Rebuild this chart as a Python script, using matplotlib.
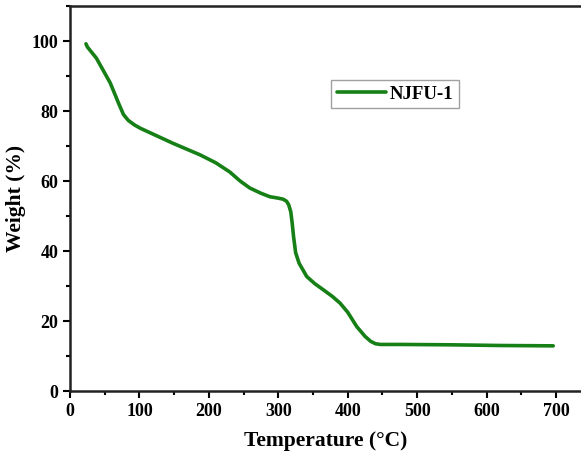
import matplotlib.pyplot as plt
from matplotlib.ticker import MultipleLocator

plt.rcParams['font.family'] = ['Liberation Serif', 'DejaVu Serif']
plt.rcParams['font.weight'] = 'bold'

# TGA curve
temperature = [23, 25, 38, 58, 70, 77, 84, 93, 101, 148, 187, 210, 230, 245, 259, 275, 288,
               300, 307, 312, 315, 318, 320, 322, 325, 330, 341, 353, 365, 378, 389, 400,
               413, 425, 433, 440, 447, 475, 547, 620, 696]
weight = [99.2, 98.3, 95.1, 88.0, 82.2, 79.0, 77.3, 76.0, 75.1, 70.8, 67.5, 65.2, 62.6, 60.0,
          58.0, 56.5, 55.5, 55.1, 54.8, 54.2, 53.2, 51.2, 48.0, 44.1, 39.5, 36.5, 32.7, 30.6,
          28.9, 27.0, 25.1, 22.5, 18.4, 15.6, 14.2, 13.5, 13.3, 13.3, 13.2, 13.0, 12.9]

fig = plt.figure(figsize=(5.81, 4.59), dpi=100)
ax = fig.add_axes([70 / 581, 1 - 391 / 459, 1 - 70 / 581, 385 / 459])

ax.plot(temperature, weight, color='#168016', linewidth=2.6, label='NJFU-1',
        solid_joinstyle='round', solid_capstyle='round')

ax.set_xlim(0, 736)
ax.set_ylim(0, 110)
ax.xaxis.set_major_locator(MultipleLocator(100))
ax.xaxis.set_minor_locator(MultipleLocator(50))
ax.yaxis.set_major_locator(MultipleLocator(20))
ax.yaxis.set_minor_locator(MultipleLocator(10))
ax.tick_params(which='major', direction='out', length=5, width=1.5, labelsize=13)
ax.tick_params(which='minor', direction='out', length=3, width=1.5)
ax.spines['right'].set_visible(False)
for s in ['left', 'bottom', 'top']:
    ax.spines[s].set_linewidth(1.8)
    ax.spines[s].set_color('#222222')

ax.set_xlabel('Temperature (°C)', fontsize=15.5, fontweight='bold', labelpad=8)
ax.set_ylabel('Weight (%)', fontsize=15.5, fontweight='bold', labelpad=4)

leg = ax.legend(loc='center', bbox_to_anchor=(0.636, 0.771), fontsize=13.5, frameon=True,
                fancybox=False, edgecolor='#888888', handlelength=2.6, handletextpad=0.2,
                borderpad=0.3, borderaxespad=0)
leg.get_frame().set_linewidth(1.0)

fig.savefig('out.png', dpi=100)
